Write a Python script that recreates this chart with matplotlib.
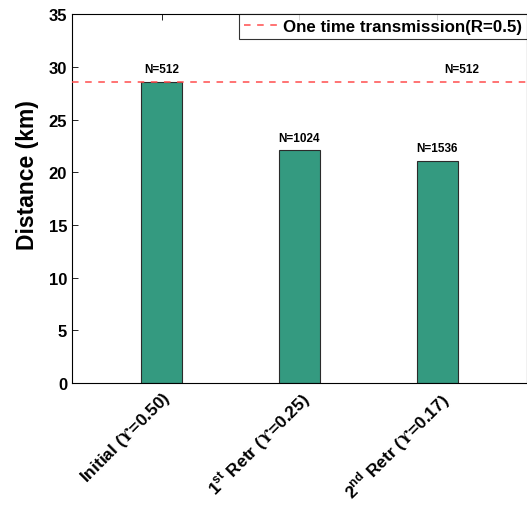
import matplotlib
matplotlib.use('Agg')
import matplotlib.pyplot as plt
import matplotlib.transforms as mtransforms
import numpy as np

plt.rcParams['font.family'] = ['Liberation Sans', 'DejaVu Sans']
plt.rcParams['font.weight'] = 'bold'
plt.rcParams['mathtext.fontset'] = 'custom'
plt.rcParams['mathtext.rm'] = 'Liberation Sans:bold'
plt.rcParams['mathtext.bf'] = 'Liberation Sans:bold'
# hooked upsilon symbol comes from STIX
plt.rcParams['mathtext.cal'] = 'STIXGeneral'

# data
categories = [r'Initial ($\mathcal{ϒ}$=0.50)',
              r'1$^{\mathbf{st}}$ Retr ($\mathcal{ϒ}$=0.25)',
              r'2$^{\mathbf{nd}}$ Retr ($\mathcal{ϒ}$=0.17)']
distances = [28.6, 22.1, 21.1]
bar_labels = ['N=512', 'N=1024', 'N=1536']
one_time_distance = 28.6
one_time_label = 'N=512'

fig = plt.figure(figsize=(5.27, 5.06), dpi=100)
ax = fig.add_axes([0.1366, 0.241, 0.8634, 0.729])

x = np.arange(1, len(categories) + 1)
ax.bar(x, distances, width=0.3, color='#349a80', edgecolor='#2b2b2b', linewidth=0.8, zorder=2)

# one time transmission reference line
ax.axhline(one_time_distance, color='#ff4d4d', ls=(0, (4.3, 4.3)), lw=1.1, zorder=3,
           label='One time transmission(R=0.5)')

for xi, d, lab in zip(x, distances, bar_labels):
    ax.text(xi, d + 0.6, lab, ha='center', va='bottom', fontsize=8.5, fontweight='bold')
ax.text(3.18, one_time_distance + 0.6, one_time_label, ha='center', va='bottom',
        fontsize=8.5, fontweight='bold')

ax.set_xlim(0.35, 3.65)
ax.set_ylim(0, 35)
ax.set_yticks(np.arange(0, 36, 5))
ax.set_xticks(x)
ax.set_xticklabels(categories, rotation=45, ha='right', rotation_mode='anchor',
                   fontsize=12.5, fontweight='bold')
shift = mtransforms.ScaledTranslation(5 / 100, -11 / 100, fig.dpi_scale_trans)
for lab in ax.get_xticklabels():
    lab.set_transform(lab.get_transform() + shift)
ax.tick_params(axis='y', labelsize=12, direction='in', length=4, width=0.6)
ax.tick_params(axis='x', direction='in', length=4, width=0.6, top=True)
for lab in ax.get_yticklabels():
    lab.set_fontweight('bold')
ax.set_ylabel('Distance (km)', fontsize=16.5, fontweight='bold')
ax.yaxis.set_label_coords(-0.073, 0.566)

for s in ax.spines.values():
    s.set_linewidth(0.8)

leg = ax.legend(loc='upper right', fontsize=12.2, frameon=True, fancybox=False,
                borderaxespad=0, handlelength=2.0, handletextpad=0.3, borderpad=0.3)
leg.get_frame().set_edgecolor('black')
leg.get_frame().set_linewidth(0.8)
for t in leg.get_texts():
    t.set_fontweight('bold')

fig.savefig('out.png', dpi=100)
